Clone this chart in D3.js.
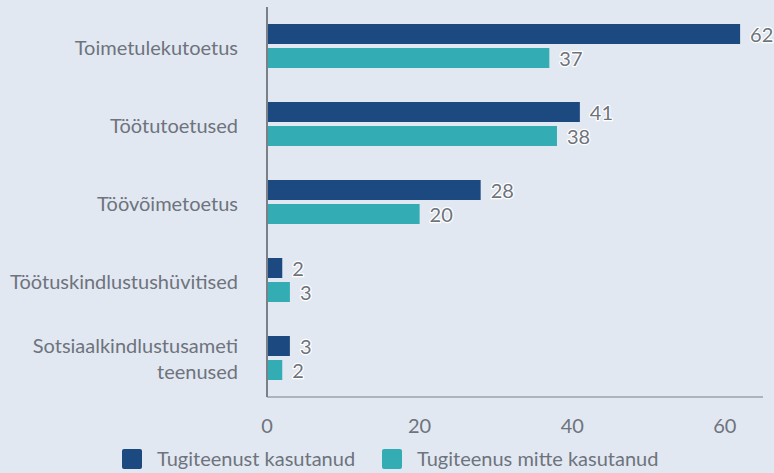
<!DOCTYPE html>
<html>
<head>
<meta charset="utf-8">
<script src="https://cdn.jsdelivr.net/npm/d3@7"></script>
<style>
  html, body { margin: 0; padding: 0; background: #e1e8f2; }
  svg { display: block; font-family: Lato, "Open Sans", sans-serif; }
</style>
</head>
<body>
<div id="chart"></div>
<script>
const categories = [
  ['Toimetulekutoetus'],
  ['Töötutoetused'],
  ['Töövõimetoetus'],
  ['Töötuskindlustushüvitised'],
  ['Sotsiaalkindlustusameti', 'teenused']
];
const seriesNames = ['Tugiteenust kasutanud', 'Tugiteenus mitte kasutanud'];
const usedValues = [62, 41, 28, 2, 3];
const notUsedValues = [37, 38, 20, 3, 2];
const xTicks = [0, 20, 40, 60];
const colors = ['#1c4a80', '#33acb3'];

const W = 774, H = 473;
const svg = d3.select('#chart').append('svg').attr('width', W).attr('height', H);

const x = d3.scaleLinear().domain([0, 65]).range([267, 763]);
const y = d3.scaleBand().domain(d3.range(categories.length)).range([7, 397]);
const series = [usedValues, notUsedValues];
const barH = 20, gap = 4;
const fs = 20, txt = '#6e737c';

// Axes
svg.append('line').attr('x1', 267).attr('x2', 267).attr('y1', 7).attr('y2', 397)
  .attr('stroke', '#7a7f88').attr('stroke-width', 2);
svg.append('line').attr('x1', 267).attr('x2', 763).attr('y1', 397).attr('y2', 397)
  .attr('stroke', '#7a7f88').attr('stroke-width', 1);

svg.append('g').selectAll('text').data(xTicks).join('text')
  .attr('x', d => x(d)).attr('y', 433)
  .attr('text-anchor', 'middle').attr('font-size', fs).attr('fill', txt)
  .text(d => d);

// Category labels
svg.append('g').selectAll('text').data(categories).join('text')
  .attr('text-anchor', 'end').attr('font-size', fs).attr('fill', txt)
  .each(function(lines, i) {
    const cy = y(i) + y.bandwidth() / 2;
    const lh = 26;
    const y0 = cy - (lines.length - 1) * lh / 2 + 9 - (lines.length - 1);
    d3.select(this).selectAll('tspan').data(lines).join('tspan')
      .attr('x', 238).attr('y', (d, k) => y0 + k * lh).text(d => d);
  });

// Bars and value labels
series.forEach((vals, s) => {
  const top = i => y(i) + y.bandwidth() / 2 - barH - gap / 2 + s * (barH + gap);
  svg.append('g').selectAll('rect').data(vals).join('rect')
    .attr('x', x(0) + 1).attr('y', (d, i) => top(i))
    .attr('width', d => x(d) - x(0) - 1).attr('height', barH)
    .attr('fill', colors[s]);
  svg.append('g').selectAll('text').data(vals).join('text')
    .attr('x', d => x(d) + 10).attr('y', (d, i) => top(i) + 18)
    .attr('font-size', fs).attr('fill', txt)
    .attr('stroke', '#fff').attr('stroke-width', 2.5).attr('paint-order', 'stroke')
    .attr('stroke-linejoin', 'round')
    .text(d => d);
});

// Legend
const legendX = [122, 382];
const lg = svg.append('g').selectAll('g').data(seriesNames).join('g')
  .attr('transform', (d, i) => `translate(${legendX[i]},449)`);
lg.append('rect').attr('width', 20).attr('height', 20).attr('rx', 2).attr('fill', (d, i) => colors[i]);
lg.append('text').attr('x', 35).attr('y', 17).attr('font-size', fs).attr('fill', txt).text(d => d);
</script>
</body>
</html>
